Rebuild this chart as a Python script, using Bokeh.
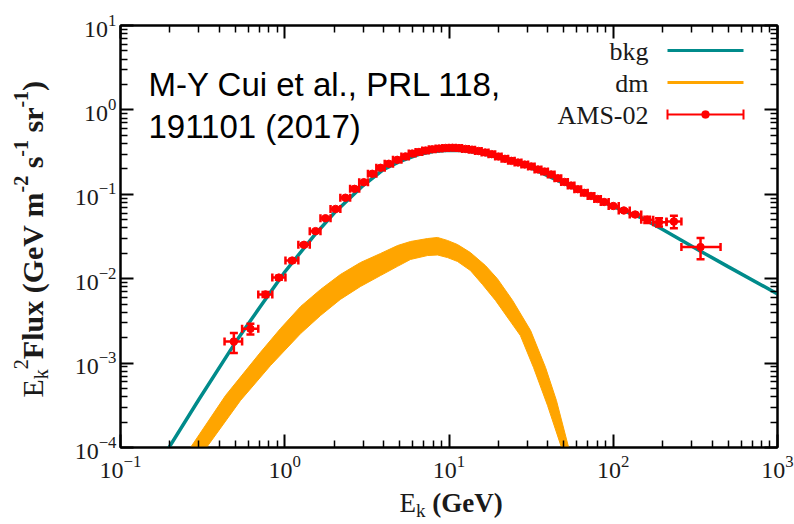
import math
from bokeh.plotting import figure
from bokeh.layouts import row, column
from bokeh.models import (LogAxis, FixedTicker, Whisker, TeeHead, ColumnDataSource,
                          Label, Arrow, BoxAnnotation, Range1d, CustomJSTickFormatter)
from bokeh.embed import file_html
from bokeh.resources import INLINE

# ---------------- data ----------------
ams_energy = [0.49, 0.618, 0.763, 0.921, 1.11, 1.31, 1.54, 1.77, 2.04, 2.34,
              2.66, 3.03, 3.41, 3.83, 4.30, 4.84, 5.43, 5.97, 6.56, 7.2,
              7.9, 8.7, 9.55, 10.5, 11.5, 12.6, 13.8, 15.1, 16.6, 18.2,
              20.0, 21.9, 24.0, 26.3, 28.9, 31.7, 34.8, 38.2, 41.9, 46.0,
              50.5, 55.4, 60.8, 66.7, 73.2, 80.3, 88.0, 100.0, 116.0, 136.0,
              161.0, 190.0, 234.0, 340.0]
ams_flux = [1.80e-3, 2.55e-3, 6.5e-3, 1.03e-2, 1.64e-2, 2.52e-2, 3.66e-2, 5.2e-2, 6.7e-2, 9.1e-2,
            0.116, 0.139, 0.175, 0.206, 0.230, 0.256, 0.281, 0.304, 0.317, 0.330,
            0.341, 0.349, 0.354, 0.356, 0.353, 0.345, 0.338, 0.326, 0.313, 0.299,
            0.280, 0.263, 0.249, 0.238, 0.225, 0.214, 0.197, 0.186, 0.172, 0.155,
            0.140, 0.127, 0.115, 0.104, 0.0955, 0.088, 0.0811, 0.0727, 0.0643, 0.0576,
            0.0499, 0.0467, 0.0476, 0.0237]
ams_err = [0.48e-3, 0.37e-3, 0.45e-3, 0.55e-3, 0.7e-3, 0.9e-3, 1.1e-3, 1.4e-3, 1.7e-3, 2.2e-3,
           2.6e-3, 3.0e-3, 3.5e-3, 4.0e-3, 4.4e-3, 4.8e-3, 5.2e-3, 5.5e-3, 5.7e-3, 5.9e-3,
           6.1e-3, 6.2e-3, 6.3e-3, 6.3e-3, 6.3e-3, 6.2e-3, 6.1e-3, 6.0e-3, 5.8e-3, 5.6e-3,
           5.3e-3, 5.1e-3, 4.9e-3, 4.7e-3, 4.5e-3, 4.3e-3, 4.1e-3, 3.9e-3, 3.7e-3, 3.4e-3,
           3.2e-3, 3.0e-3, 2.8e-3, 2.6e-3, 2.5e-3, 2.4e-3, 2.3e-3, 2.2e-3, 2.2e-3, 2.4e-3,
           4.2e-3, 5.2e-3, 8.0e-3, 6.7e-3]
ams_bin_edges = [0.43, 0.55, 0.69, 0.84, 1.01, 1.21, 1.42, 1.65, 1.90, 2.18,
                 2.50, 2.84, 3.21, 3.61, 4.06, 4.56, 5.13, 5.69, 6.26, 6.87,
                 7.54, 8.29, 9.11, 10.0, 11.0, 12.0, 13.2, 14.4, 15.8, 17.4,
                 19.1, 20.9, 22.9, 25.1, 27.6, 30.3, 33.2, 36.5, 40.0, 43.9,
                 48.2, 52.9, 58.0, 63.7, 69.9, 76.7, 84.0, 93.8, 108.0, 126.0,
                 148.0, 175.0, 211.0, 260.0, 450.0]

bkg_energy = [0.18, 0.3, 0.5, 0.7, 1.0, 1.5, 2.0, 3.0, 4.0, 5.0, 6.5, 8.0, 10.0, 12.0,
              15.0, 20.0, 30.0, 50.0, 70.0, 100.0, 150.0, 200.0, 340.0, 500.0, 1000.0]
bkg_flux = [7.5e-5, 3.7e-4, 1.75e-3, 4.5e-3, 1.2e-2, 3.2e-2, 6.0e-2, 0.127, 0.197, 0.244,
            0.295, 0.322, 0.333, 0.330, 0.313, 0.272, 0.216, 0.135, 0.098, 0.0715,
            0.0521, 0.0382, 0.0212, 0.0139, 0.0066]

dm_upper_energy = [0.235, 0.267, 0.436, 0.711, 0.942, 1.25, 1.651, 2.18, 2.892, 3.83, 4.86,
                   5.83, 7.39, 8.51, 9.79, 11.27, 13.5, 16.68, 19.7, 24.4, 31.4, 38.7,
                   45.1, 53.5, 56.5]
dm_upper_flux = [7.0e-5, 1.0e-4, 4.13e-4, 1.34e-3, 2.57e-3, 4.69e-3, 7.45e-3, 1.12e-2, 1.556e-2,
                 1.99e-2, 2.47e-2, 2.76e-2, 2.99e-2, 3.08e-2, 2.84e-2, 2.54e-2, 2.04e-2,
                 1.43e-2, 1.00e-2, 5.52e-3, 2.43e-3, 8.87e-4, 3.6e-4, 1.0e-4, 7.0e-5]
dm_lower_energy = [0.294, 0.334, 0.538, 0.819, 1.25, 1.651, 2.18, 2.892, 3.83, 4.86, 5.83,
                   7.39, 8.51, 9.79, 11.27, 13.5, 16.0, 19.2, 27.2, 32.7, 39.8, 48.4, 51.2]
dm_lower_flux = [7.0e-5, 1.0e-4, 3.61e-4, 9.37e-4, 2.24e-3, 3.66e-3, 5.68e-3, 8.09e-3, 1.09e-2,
                 1.40e-2, 1.69e-2, 1.88e-2, 1.91e-2, 1.78e-2, 1.60e-2, 1.25e-2, 8.53e-3,
                 5.52e-3, 2.12e-3, 8.87e-4, 3.15e-4, 1.0e-4, 7.0e-5]

x_major = [0.1, 1.0, 10.0, 100.0, 1000.0]
y_major = [1e-4, 1e-3, 1e-2, 1e-1, 1e0, 1e1]

legend_labels = ["bkg", "dm", "AMS-02"]
note_lines = ["M-Y Cui et al., PRL 118,", "191101 (2017)"]

TEAL = "#008B8B"
ORANGE = "#FFA500"
RED = "#FF0000"
SERIF = "Liberation Serif"
TXT = "#1a1a1a"
NBSP = "\u00a0"
BASE_SHIFT = 0.34   # label anchor sits this many em above the alphabetic baseline

# ---------------- page geometry (page pixels) ----------------
PAGE_W, PAGE_H = 794, 524
YLAB_W = 60
F_LEFT, F_TOP, F_RIGHT, F_BOTTOM = 120, 25, 777, 447
MAIN_H = 485

main_w = PAGE_W - YLAB_W
p = figure(width=main_w, height=MAIN_H, title=None,
           min_border_left=F_LEFT - YLAB_W, min_border_right=PAGE_W - F_RIGHT,
           min_border_top=F_TOP, min_border_bottom=MAIN_H - F_BOTTOM,
           x_axis_type="log", y_axis_type="log",
           x_range=Range1d(0.1, 1000), y_range=Range1d(1e-4, 10),
           output_backend="svg", toolbar_location=None)
p.xgrid.visible = False
p.ygrid.visible = False
p.outline_line_color = "black"
p.outline_line_width = 2


def minor_of(majors):
    out = []
    for m in majors[:-1]:
        for k in range(2, 10):
            out.append(m * k)
    return out


def style_axis(ax, labels=True):
    ax.axis_line_color = "black"
    ax.axis_line_width = 2
    ax.major_tick_in = 13
    ax.major_tick_out = 0
    ax.minor_tick_in = 7
    ax.minor_tick_out = 0
    ax.major_tick_line_width = 2
    ax.minor_tick_line_width = 1.5
    ax.major_tick_line_color = "black"
    ax.minor_tick_line_color = "black"
    if labels:
        ax.major_label_text_font = SERIF
        ax.major_label_text_font_size = "24px"
        ax.major_label_text_color = TXT
    else:
        ax.formatter = CustomJSTickFormatter(code="return ''")
        ax.major_label_standoff = 0


xa = p.xaxis[0]
xa.ticker = FixedTicker(ticks=x_major, minor_ticks=minor_of(x_major))
style_axis(xa)
xa.major_label_standoff = 8
ya = p.yaxis[0]
ya.ticker = FixedTicker(ticks=y_major, minor_ticks=minor_of(y_major))
style_axis(ya)
ya.major_label_standoff = 4

top = LogAxis(ticker=FixedTicker(ticks=x_major, minor_ticks=minor_of(x_major)))
style_axis(top, labels=False)
p.add_layout(top, "above")
right = LogAxis(ticker=FixedTicker(ticks=y_major, minor_ticks=minor_of(y_major)))
style_axis(right, labels=False)
p.add_layout(right, "right")

# ---------------- glyphs ----------------
p.patch(dm_upper_energy + dm_lower_energy[::-1], dm_upper_flux + dm_lower_flux[::-1],
        fill_color=ORANGE, line_color=ORANGE, line_width=1)
p.line(bkg_energy, bkg_flux, line_color=TEAL, line_width=3.5)

src = ColumnDataSource(dict(
    e=ams_energy, f=ams_flux,
    elo=ams_bin_edges[:-1], ehi=ams_bin_edges[1:],
    flo=[f - d for f, d in zip(ams_flux, ams_err)],
    fhi=[f + d for f, d in zip(ams_flux, ams_err)],
))
for dim, base, lo, hi in (("width", "f", "elo", "ehi"), ("height", "e", "flo", "fhi")):
    p.add_layout(Whisker(source=src, base=base, lower=lo, upper=hi, dimension=dim,
                         line_color=RED, line_width=2.5, level="annotation",
                         lower_head=TeeHead(size=8, line_color=RED, line_width=2.5),
                         upper_head=TeeHead(size=8, line_color=RED, line_width=2.5)))
p.scatter("e", "f", source=src, size=7.5, color=RED, level="overlay")


def fx(px):
    return px - F_LEFT


def fy(py):
    return F_BOTTOM - py


def flab(x, baseline_y, text, size, **kw):
    anchor_y = baseline_y - BASE_SHIFT * size
    p.add_layout(Label(x=fx(x), y=fy(anchor_y), x_units="screen", y_units="screen", text=text,
                       text_font_size=f"{size}px", text_baseline="alphabetic", **kw))


leg_y = [50, 82, 114]
for lbl, yy in zip(legend_labels, leg_y):
    flab(648, yy + 10, lbl, 26, text_font=SERIF, text_align="right", text_color=TXT)
for yy, col in ((leg_y[0], TEAL), (leg_y[1], ORANGE)):
    p.add_layout(Arrow(x_start=fx(667), y_start=fy(yy), x_end=fx(743), y_end=fy(yy),
                       start_units="screen", end_units="screen", start=None, end=None,
                       line_color=col, line_width=3))
p.add_layout(Arrow(x_start=fx(667), y_start=fy(leg_y[2]), x_end=fx(743), y_end=fy(leg_y[2]),
                   start_units="screen", end_units="screen",
                   start=TeeHead(size=10, line_color=RED, line_width=2),
                   end=TeeHead(size=10, line_color=RED, line_width=2),
                   line_color=RED, line_width=2))
p.add_layout(BoxAnnotation(left=fx(701), right=fx(709), bottom=fy(leg_y[2] + 4), top=fy(leg_y[2] - 4),
                           left_units="screen", right_units="screen",
                           bottom_units="screen", top_units="screen",
                           fill_color=RED, fill_alpha=1.0, line_color=RED, border_radius=4,
                           level="overlay"))

flab(148, 95, note_lines[0], 33, text_font="Liberation Sans", text_align="left", text_color="black")
flab(148, 137, note_lines[1], 33, text_font="Liberation Sans", text_align="left", text_color="black")

# ---------------- axis titles in their own strips ----------------
REG_W = {"E": 0.611, "k": 0.5, "-": 0.333, " ": 0.25, NBSP: 0.25}
BOLD_W = {"F": 0.611, "l": 0.278, "u": 0.556, "x": 0.5, " ": 0.25, NBSP: 0.25, "(": 0.333,
          "G": 0.778, "e": 0.444, "V": 0.722, "m": 0.833, "s": 0.389, "r": 0.444, ")": 0.333,
          "-": 0.333}


def text_w(t, bold, size):
    tbl = BOLD_W if bold else REG_W
    return sum(tbl.get(c, 0.5) for c in t) * size


def strip(w, h):
    f = figure(width=w, height=h, title=None, x_range=Range1d(0, w), y_range=Range1d(0, h),
               min_border=0, x_axis_location=None, y_axis_location=None,
               output_backend="svg", toolbar_location=None)
    f.xgrid.visible = False
    f.ygrid.visible = False
    f.outline_line_color = None
    return f


# left strip: its frame spans page x 0..60, y 0..524
ys = strip(YLAB_W, PAGE_H)
ylab_pieces = [("E", False, 30, 0), ("k", False, 20, -5), ("2", False, 20, 15),
               ("Flux" + NBSP + "(GeV" + NBSP + "m", True, 30, 0), ("-2", True, 20, 15),
               (NBSP + "s", True, 30, 0), ("-1", True, 20, 15), (NBSP + "sr", True, 30, 0),
               ("-1", True, 20, 15), (")", True, 30, 0)]
pos = 397.0
for t, b, s, sh in ylab_pieces:
    baseline_x = 42 - sh
    ys.add_layout(Label(x=baseline_x - BASE_SHIFT * s, y=PAGE_H - pos,
                        x_units="screen", y_units="screen",
                        text=t, angle=math.pi / 2,
                        text_font=SERIF, text_font_size=f"{s}px",
                        text_font_style="bold" if b else "normal", text_align="left",
                        text_baseline="alphabetic", text_color=TXT))
    pos -= text_w(t, b, s)

# bottom strip: its frame is aligned with the main frame, page x 120..777, y 485..524
xs = strip(main_w, PAGE_H - MAIN_H)
xlab_pieces = [("E", False, 27, 0), ("k", False, 19, -4), (NBSP + "(GeV)", True, 27, 0)]
pos = 399.0
for t, b, s, sh in xlab_pieces:
    baseline_y = 512 + (-sh)
    xs.add_layout(Label(x=pos - F_LEFT, y=PAGE_H - (baseline_y - BASE_SHIFT * s),
                        x_units="screen", y_units="screen",
                        text=t,
                        text_font=SERIF, text_font_size=f"{s}px",
                        text_font_style="bold" if b else "normal", text_align="left",
                        text_baseline="alphabetic", text_color=TXT))
    pos += text_w(t, b, s)

layout = row(ys, column(p, xs, spacing=0), spacing=0)
open("out.html", "w").write(file_html(layout, INLINE))
